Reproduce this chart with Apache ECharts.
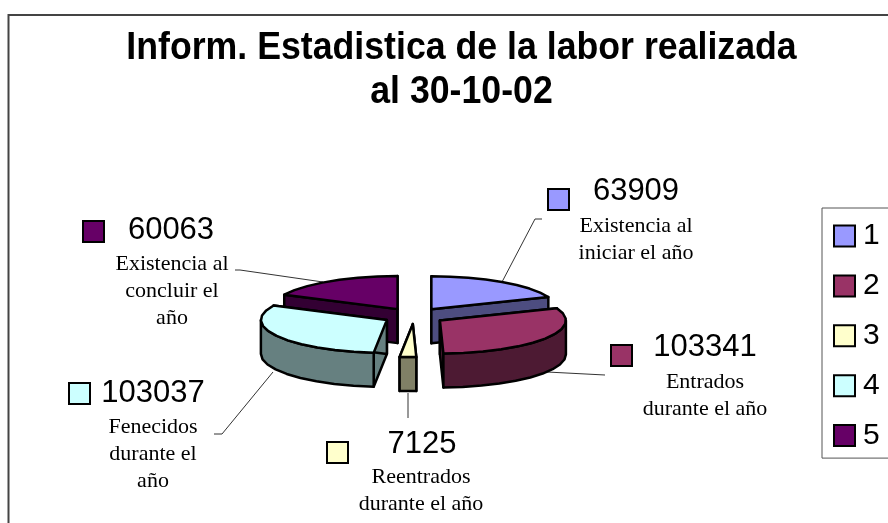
<!DOCTYPE html>
<html>
<head>
<meta charset="utf-8">
<title>Inform. Estadistica</title>
<style>
  html, body { margin: 0; padding: 0; background: #fff; }
  #chart { width: 888px; height: 523px; }
</style>
<script src="https://cdn.jsdelivr.net/npm/echarts@6/dist/echarts.min.js"></script>
</head>
<body>
<div id="chart"></div>
<script>
// data
const legendNames = ['1', '2', '3', '4', '5']
const sliceValues = [63909, 103341, 7125, 103037, 60063]
const sliceTexts = [
  'Existencia al\niniciar el año',
  'Entrados\ndurante el año',
  'Reentrados\ndurante el año',
  'Fenecidos\ndurante el\naño',
  'Existencia al\nconcluir el\naño'
]
const titleText = 'Inform. Estadistica de la labor realizada\nal 30-10-02'

// styles
const topColors = ['#9999FF', '#993366', '#FFFFCC', '#CCFFFF', '#660066']
const wallColors = ['#4D4D80', '#4D1A33', '#808066', '#668080', '#330033']

// layout of the tilted pie
const pie = { cx: 414, cy: 316, rx: 126, ry: 33, depth: 34, explode: 31, step: 9 }

// annotation layout, same order as the slices
const notes = [
  { box: [548, 189], num: [636, 191], txt: [636, 226], line: [[502, 282], [535, 219], [542, 219]] },
  { box: [611, 345], num: [705, 347], txt: [705, 382], line: [[547, 372], [605, 375]] },
  { box: [327, 442], num: [422, 444], txt: [421, 477], line: [[408, 393], [408, 418]] },
  { box: [69, 383], num: [153, 393], txt: [153, 427], line: [[273, 372], [222, 434], [214, 434]] },
  { box: [83, 221], num: [171, 230], txt: [172, 264], line: [[323, 282], [240, 270], [235, 270]] }
]

const total = sliceValues.reduce((a, b) => a + b, 0)

function startAngle (i) {
  let sum = 0
  for (let k = 0; k < i; k++) sum += sliceValues[k]
  return sum / total * 360
}

// angle is clockwise from 12 o'clock
function onEllipse (c, deg) {
  const a = deg * Math.PI / 180
  return [c[0] + pie.rx * Math.sin(a), c[1] - pie.ry * Math.cos(a)]
}

function arcPoints (c, from, to) {
  const pts = []
  const n = Math.max(1, Math.round((to - from) / pie.step))
  for (let k = 0; k <= n; k++) pts.push(onEllipse(c, from + (to - from) * k / n))
  return pts
}

function down (p) {
  return [p[0], p[1] + pie.depth]
}

function renderSlice (params, api) {
  const i = params.seriesIndex
  const from = startAngle(i)
  const to = from + api.value(0) / total * 360
  const mid = (from + to) / 2 * Math.PI / 180
  const apex = [
    pie.cx + pie.explode * Math.sin(mid),
    pie.cy - pie.explode * pie.ry / pie.rx * Math.cos(mid)
  ]
  const poly = (points, fill) => ({
    type: 'polygon',
    shape: { points: points },
    style: { fill: fill, stroke: '#000', lineWidth: 2.5, lineJoin: 'round' }
  })
  const arc = arcPoints(apex, from, to)
  const first = arc[0]
  const last = arc[arc.length - 1]
  const children = [
    poly([apex, first, down(first), down(apex)], wallColors[i]),
    poly([apex, last, down(last), down(apex)], wallColors[i])
  ]
  // only the front half of the rim can be seen
  const frontFrom = Math.max(from, 90)
  const frontTo = Math.min(to, 270)
  if (frontTo > frontFrom) {
    const rim = arcPoints(apex, frontFrom, frontTo)
    children.push(poly(rim.concat(rim.map(down).reverse()), wallColors[i]))
  }
  children.push(poly([apex].concat(arc), topColors[i]))
  return { type: 'group', children: children }
}

// back slices are painted first
function paintRank (i) {
  const mid = (startAngle(i) + sliceValues[i] / total * 180) * Math.PI / 180
  return 10 - Math.cos(mid) * 5
}

const series = legendNames.map((name, i) => ({
  type: 'custom',
  name: name,
  coordinateSystem: 'none',
  z: paintRank(i),
  silent: true,
  animation: false,
  renderItem: renderSlice,
  data: [[sliceValues[i]]]
}))

const graphics = [
  {
    type: 'rect',
    shape: { x: 8.5, y: 15, width: 920, height: 560 },
    style: { fill: 'none', stroke: '#444', lineWidth: 2 }
  },
  // the title is drawn a little narrower than the font, as in the picture
  {
    type: 'text',
    x: 461.5,
    y: 70,
    scaleX: 0.915,
    style: {
      text: titleText,
      fill: '#000',
      font: 'bold 39px "Liberation Sans"',
      lineHeight: 44,
      align: 'center',
      verticalAlign: 'middle'
    }
  }
]
notes.forEach((n, i) => {
  graphics.push({
    type: 'polyline',
    shape: { points: n.line },
    style: { fill: 'none', stroke: '#333', lineWidth: 1 }
  })
  graphics.push({
    type: 'rect',
    shape: { x: n.box[0], y: n.box[1], width: 21, height: 21 },
    style: { fill: topColors[i], stroke: '#000', lineWidth: 2 }
  })
  graphics.push({
    type: 'text',
    style: {
      text: String(sliceValues[i]),
      x: n.num[0],
      y: n.num[1],
      fill: '#000',
      font: '31px "Liberation Sans"',
      align: 'center',
      verticalAlign: 'middle'
    }
  })
  graphics.push({
    type: 'text',
    style: {
      text: sliceTexts[i],
      x: n.txt[0],
      y: n.txt[1] - 13,
      fill: '#000',
      font: '22px "Liberation Serif"',
      lineHeight: 27,
      align: 'center',
      verticalAlign: 'top'
    }
  })
})

const chart = echarts.init(document.getElementById('chart'), null, { renderer: 'canvas' })
chart.setOption({
  backgroundColor: '#fff',
  animation: false,
  tooltip: { show: false },
  legend: {
    orient: 'vertical',
    left: 822,
    top: 208,
    padding: [13, 40, 7.5, 11],
    itemWidth: 21,
    itemHeight: 21,
    itemGap: 19.9,
    selectedMode: false,
    borderColor: '#555',
    borderWidth: 1,
    textStyle: { fontFamily: '"Liberation Sans"', fontSize: 30, lineHeight: 21, color: '#000', padding: [0, 0, 0, 3] },
    data: legendNames.map((name, i) => ({
      name: name,
      icon: 'rect',
      itemStyle: { color: topColors[i], borderColor: '#000', borderWidth: 2 }
    }))
  },
  graphic: graphics,
  series: series
})
window.addEventListener('resize', () => chart.resize())
</script>
</body>
</html>
